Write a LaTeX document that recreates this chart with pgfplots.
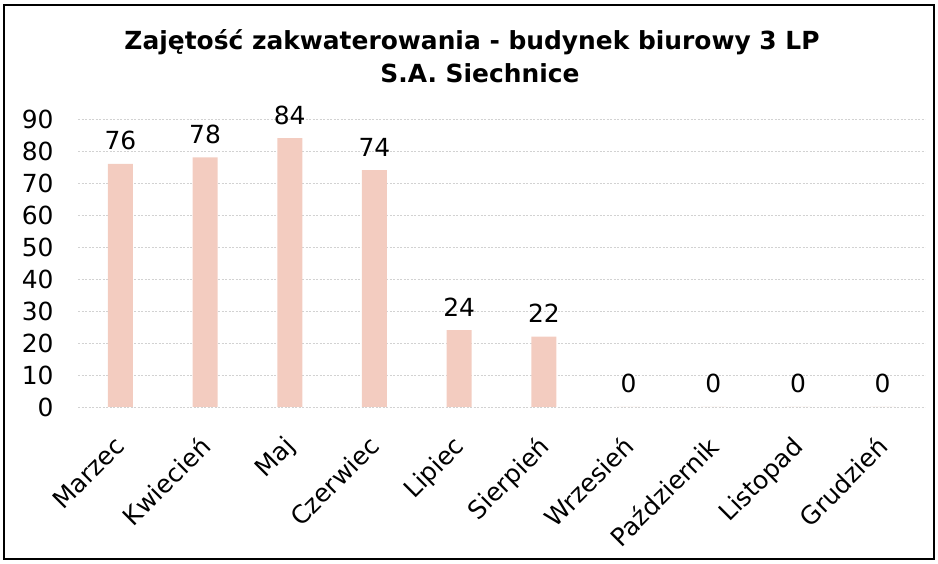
\documentclass[border=0pt]{standalone}
\usepackage{fontspec}
\setmainfont{DejaVu Sans}
\usepackage{pgfplots}
\pgfplotsset{compat=1.18}
\definecolor{barfill}{RGB}{243,204,192}
\definecolor{gridc}{RGB}{210,210,210}
\begin{document}
\begin{tikzpicture}[x=1bp,y=1bp]
\useasboundingbox (0,0) rectangle (938,564);
\draw[line width=2.2bp] (4,5) rectangle (934,559);
\node[anchor=base, font=\fontsize{25}{30}\selectfont\bfseries] at (472,514) {Zajętość zakwaterowania - budynek biurowy 3 LP};
\node[anchor=base, font=\fontsize{25}{30}\selectfont\bfseries] at (480,481) {S.A. Siechnice};
\begin{axis}[
  at={(78bp,157bp)}, anchor=south west,
  scale only axis, width=847bp, height=288bp,
  xmin=-0.5, xmax=9.5, ymin=0, ymax=90,
  axis line style={draw=none},
  ymajorgrids, ytick={0,10,...,90},
  major grid style={gridc, line width=0.8bp, dash pattern=on 2bp off 1.5bp},
  xtick={0,...,9},
  xticklabels={Marzec,Kwiecień,Maj,Czerwiec,Lipiec,Sierpień,Wrzesień,Październik,Listopad,Grudzień},
  tick style={draw=none},
  /pgf/number format/assume math mode=true,
  ticklabel style={font=\fontsize{25}{30}\selectfont},
  yticklabel style={anchor=east, xshift=-21bp},
  xticklabel style={xshift=-7bp, yshift=-26bp, rotate=45, anchor=north east, inner sep=1bp},
  clip=false,
]
\addplot[ybar, bar width=25bp, fill=barfill, draw=none,
  nodes near coords, every node near coord/.append style={font=\fontsize{25}{30}\selectfont, anchor=base, yshift=14bp}]
  coordinates {(0,76) (1,78) (2,84) (3,74) (4,24) (5,22) (6,0) (7,0) (8,0) (9,0)};
\end{axis}
\end{tikzpicture}
\end{document}
